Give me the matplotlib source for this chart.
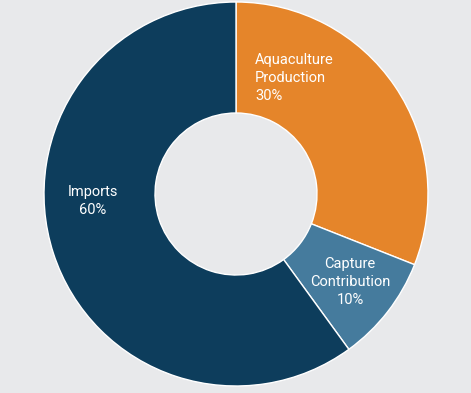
import matplotlib.pyplot as plt

labels = ['Aquaculture\nProduction\n30%', 'Capture\nContribution\n10%', 'Imports\n60%']
# wedge sizes as drawn in the picture
values = [31, 9, 60]
colors = ['#e5852a', '#457b9d', '#0d3d5c']

bg = '#e8e9eb'
fig = plt.figure(figsize=(4.71, 3.93), dpi=100, facecolor=bg)
ax = fig.add_axes([0, 0, 1, 1])
ax.set_facecolor(bg)

cx, cy, r = 236, 199, 192
ax.pie(values, colors=colors, startangle=90, counterclock=False,
       center=(cx, cy), radius=r, frame=True,
       wedgeprops=dict(width=r - 81, edgecolor='white', linewidth=1))
ax.set_xlim(0, 471)
ax.set_ylim(0, 393)
ax.set_aspect('equal')
ax.axis('off')

font = dict(family='Roboto', fontsize=10.5, color='white', linespacing=1.35)
ax.text(255, 315, labels[0], ha='left', va='center', **font)
ax.text(350, 111, labels[1], ha='center', va='center', **font)
ax.text(93, 192, labels[2], ha='center', va='center', **font)

plt.savefig('out.png', dpi=100, facecolor=bg)
